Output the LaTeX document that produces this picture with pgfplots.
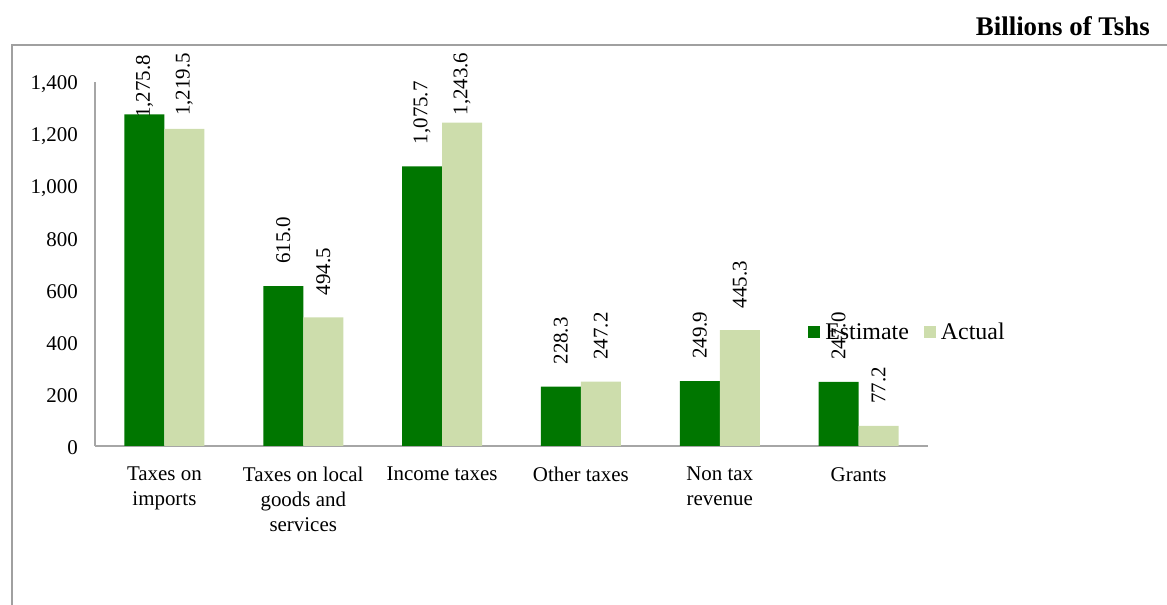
\documentclass[border=0pt]{standalone}
\usepackage{pgfplots}
\usepackage{pgfplotstable}
\pgfplotsset{compat=1.18}
\usepackage{fontspec}
\setmainfont{Liberation Serif}
\definecolor{estc}{RGB}{0,118,0}
\definecolor{actc}{RGB}{205,221,172}
\definecolor{axc}{RGB}{166,166,166}
\definecolor{frc}{RGB}{160,160,160}
% label shift (pt) moves clamped labels down as in the original
\pgfplotstableread{
x est eshift act ashift
0 1275.8 -26 1219.5 -9
1 615.0 0 494.5 0
2 1075.7 0 1243.6 -15
3 228.3 0 247.2 0
4 249.9 0 445.3 0
5 247.0 0 77.2 0
}\datatable
\begin{document}
\begin{tikzpicture}
\path[use as bounding box] (0,0) rectangle (1167bp,605bp);
\draw[frc, line width=1.5bp] (12bp,0bp) -- (12bp,560bp) -- (1167bp,560bp);
\node[anchor=east, inner sep=0pt, font=\fontsize{27}{30}\selectfont\bfseries] at (1150bp,579bp) {Billions of Tshs};
\begin{axis}[
  at={(95bp,159bp)}, anchor=south west,
  scale only axis, width=833bp, height=364bp,
  xmin=-0.5, xmax=5.5, ymin=0, ymax=1400,
  axis x line=bottom, axis y line=left,
  axis line style={-, draw=axc, line width=1.5bp},
  major tick length=0pt,
  ytick={0,200,...,1400},
  scaled y ticks=false,
  /pgf/number format/.cd, 1000 sep={,}, assume math mode=true, /pgfplots/.cd,
  yticklabel style={font=\fontsize{21}{25}\selectfont, inner sep=0pt, anchor=east, xshift=-17bp, yshift=-2bp},
  xtick={0,...,5},
  xticklabels={{Taxes on\\imports},{Taxes on local\\goods and\\services},{Income taxes},{Other taxes},{Non tax\\revenue},{Grants}},
  xticklabel style={font=\fontsize{21}{25}\selectfont, align=center, inner sep=0pt, anchor=north, yshift=-21bp},
  ybar=0pt, bar width=40bp,
  nodes near coords={\pgfmathprintnumber[fixed,fixed zerofill,precision=1,1000 sep={,},assume math mode=true]{\pgfplotspointmeta}},
  every node near coord/.append style={rotate=90, anchor=west, inner xsep=22bp, inner ysep=0pt, font=\fontsize{21}{24}\selectfont, xshift=\lshift pt},
  legend columns=2,
  legend style={at={(0.856,0.313)}, anchor=west, draw=none, fill=none, inner sep=0pt,
    font=\fontsize{24}{28}\selectfont,
    nodes={inner sep=0pt}},
  legend image code/.code={\fill[#1] (0bp,-6bp) rectangle (12bp,6bp);},
]
\addplot[fill=estc, draw=none, visualization depends on={\thisrow{eshift}\as\lshift}] table[x=x, y=est] {\datatable};
\addplot[fill=actc, draw=none, visualization depends on={\thisrow{ashift}\as\lshift}] table[x=x, y=act] {\datatable};
\legend{\hspace*{5bp}Estimate\hspace*{15bp},\hspace*{5bp}Actual}
\end{axis}
\end{tikzpicture}
\end{document}
